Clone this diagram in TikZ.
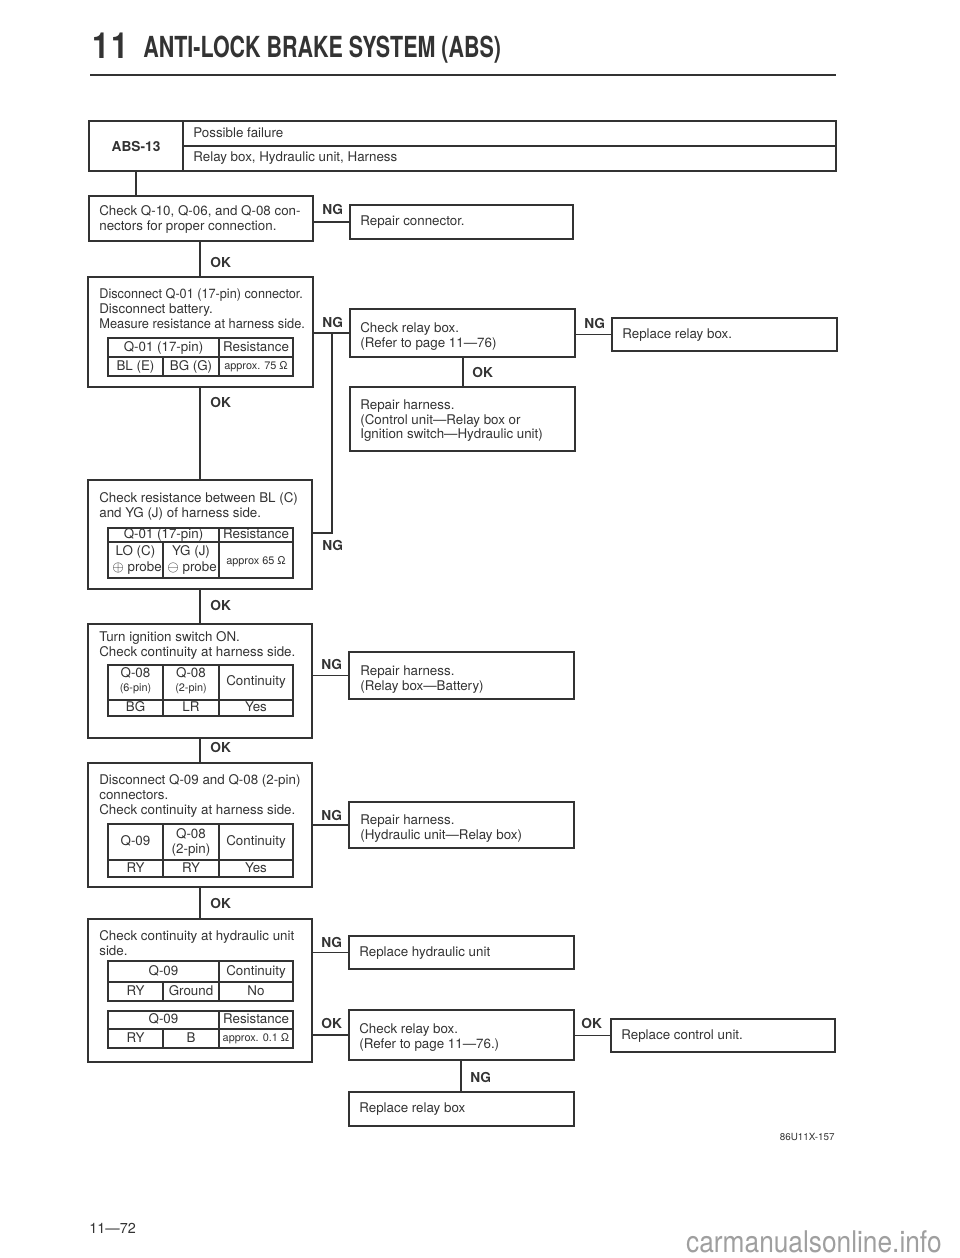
\documentclass[tikz,border=0pt]{standalone}
\usepackage{fontspec}
\setmainfont{TeX Gyre Heros}
\usetikzlibrary{fit}

\definecolor{ink}{HTML}{333333}
\newcommand\bodyfont{\fontsize{7.6}{8.5}\selectfont}
\newcommand\smallfont{\fontsize{6.2}{7}\selectfont}
\newcommand\tagfont{\fontsize{7.8}{9}\selectfont\bfseries}

\begin{document}
\begin{tikzpicture}[x=0.2mm,y=-0.2mm,
    box/.style={draw=ink, line width=0.7pt, inner sep=0pt},
    txt/.style={anchor=north west, inner sep=0pt, align=left, text=ink, font=\bodyfont},
    line/.style={anchor=west, inner sep=0pt, text=ink, font=\bodyfont, text height=5.6pt, text depth=1.6pt},
    cell/.style={inner sep=0pt, align=center, text=ink, font=\bodyfont, text height=5.6pt, text depth=1.6pt},
    tiny/.style={inner sep=0pt, align=center, text=ink, font=\smallfont, text height=4.6pt, text depth=1.3pt},
    tag/.style={anchor=west, inner sep=0pt, text=ink, font=\tagfont, text height=5.8pt, text depth=0pt},
    link/.style={draw=ink, line width=0.7pt},
    grid/.style={draw=ink, line width=0.6pt}]
\fill[white] (0,0) rectangle (960,1258);
\useasboundingbox (0,0) rectangle (960,1258);

% header
\node[anchor=base west, inner sep=0pt, text=ink, font=\fontsize{20.5}{22}\selectfont\bfseries] (secno) at (92,58) {\scalebox{0.85}[1]{1\hspace{1.5pt}1}};
\node[anchor=base west, inner sep=0pt, text=ink, font=\fontsize{16.5}{18}\selectfont\bfseries] (sectitle) at (143,57) {\scalebox{0.74}[1]{ANTI-LOCK BRAKE SYSTEM (ABS)}};
\draw[ink, line width=1.5pt] (90,75) -- (836,75);

% ABS-13 heading box
\node[box, fit={(89,121) (836,171)}] (abs) {};
\draw[grid] (183,121) -- (183,171) (183,146) -- (836,146);
\node[tag, anchor=center] (abslab) at (136,146) {ABS-13};
\node[line] (fail) at (193,134) {Possible failure};
\node[line] (cause) at (193,158) {Relay box, Hydraulic unit, Harness};

\coordinate (spine) at (200,0);
\coordinate (ngbus) at (332,533);

% step 1
\node[box, fit={(89,196) (313,241)}] (chk) {};
\node[txt] (chkt) at (99,205) {Check Q-10, Q-06, and Q-08 con-\\nectors for proper connection.};
\node[box, fit={(350,205) (573,239)}] (rcon) {};
\node[line] (rcont) at (360,222) {Repair connector.};
\draw[link] (abs.south -| abslab) -- (chk.north -| abslab);
\draw[link] (chk.east |- rcon.west) -- (rcon.west);
\node[tag] (ng1) at (322,209) {NG};

% step 2
\node[box, fit={(88,277) (313,387)}] (dis) {};
\node[txt] (dist) at (99,288) {\scalebox{0.95}[1]{Disconnect Q-01 (17-pin) connector.}\\Disconnect battery.\\\scalebox{0.96}[1]{Measure resistance at harness side.}};
\draw[grid] (108,338) rectangle (293,376) (108,357) -- (293,357) (163,357) -- (163,376) (219,338) -- (219,376);
\node[cell] (t1a) at (163.5,347.5) {Q-01 (17-pin)};
\node[cell] (t1b) at (256,347.5) {Resistance};
\node[cell] (t1c) at (135.5,366.5) {BL (E)};
\node[cell] (t1d) at (191,366.5) {BG (G)};
\node[tiny] (t1e) at (256,366.5) {approx. 75 Ω};
\draw[link] (chk.south -| spine) -- (dis.north -| spine);
\node[tag] (ok1) at (210,262) {OK};

\node[box, fit={(350,309) (575,357)}] (rly1) {};
\node[txt] (rly1t) at (360,322) {Check relay box.\\(Refer to page 11—76)};
\node[box, fit={(612,318) (837,351)}] (rrb1) {};
\node[line] (rrb1t) at (622,335) {Replace relay box.};
\node[box, fit={(350,387) (575,451)}] (rh1) {};
\node[txt] (rh1t) at (360,399) {Repair harness.\\(Control unit—Relay box or\\Ignition switch—Hydraulic unit)};
\draw[link] (dis.east |- rly1.west) -- (rly1.west);
\node[tag] (ng2) at (322,322) {NG};
\draw[link] (rrb1.west -| rly1.east) -- (rrb1.west);
\node[tag] (ng3) at (584,323) {NG};
\draw[link] (rly1.south -| 463,0) -- (rh1.north -| 463,0);
\node[tag] (ok2) at (472,372) {OK};

% step 3
\node[box, fit={(88,480) (312,589)}] (res) {};
\node[txt] (rest) at (99,492) {Check resistance between BL (C)\\and YG (J) of harness side.};
\draw[grid] (108,528) rectangle (293,578) (108,542) -- (293,542) (163,542) -- (163,578) (219,528) -- (219,578);
\node[cell] (t2a) at (163.5,535) {Q-01 (17-pin)};
\node[cell] (t2b) at (256,535) {Resistance};
\node[cell] (t2c) at (135.5,552) {LO (C)};
\node[cell] (t2d) at (137,568) {$\oplus$ probe};
\node[cell] (t2e) at (191,552) {YG (J)};
\node[cell] (t2f) at (192,568) {$\ominus$ probe};
\node[tiny] (t2g) at (256,562) {approx 65 Ω};
\draw[link] (dis.south -| spine) -- (res.north -| spine);
\node[tag] (ok3) at (210,402) {OK};
\draw[link] (res.east |- ngbus) -- (ngbus) -- (ngbus |- rly1.west);
\node[tag] (ng4) at (322,545) {NG};

% step 4
\node[box, fit={(88,624) (312,738)}] (ign) {};
\node[txt] (ignt) at (99,631) {Turn ignition switch ON.\\Check continuity at harness side.};
\draw[grid] (108,665) rectangle (293,716) (108,700) -- (293,700) (163,665) -- (163,716) (219,665) -- (219,716);
\node[cell] (t3a) at (135.5,674) {Q-08};
\node[tiny] (t3b) at (135.5,689) {(6-pin)};
\node[cell] (t3c) at (191,674) {Q-08};
\node[tiny] (t3d) at (191,689) {(2-pin)};
\node[cell] (t3e) at (256,682) {Continuity};
\node[cell] (t3f) at (135.5,708) {BG};
\node[cell] (t3g) at (191,708) {LR};
\node[cell] (t3h) at (256,708) {Yes};
\draw[link] (res.south -| spine) -- (ign.north -| spine);
\node[tag] (ok4) at (210,605) {OK};
\node[box, fit={(349,652) (574,699)}] (rh2) {};
\node[txt] (rh2t) at (360,665) {Repair harness.\\(Relay box—Battery)};
\draw[link] (ign.east |- rh2.west) -- (rh2.west);
\node[tag] (ng5) at (321,664) {NG};

% step 5
\node[box, fit={(88,763) (312,887)}] (dq9) {};
\node[txt] (dq9t) at (99,774) {Disconnect Q-09 and Q-08 (2-pin)\\connectors.\\Check continuity at harness side.};
\draw[grid] (108,824) rectangle (293,877) (108,860) -- (293,860) (163,824) -- (163,877) (219,824) -- (219,877);
\node[cell] (t4a) at (135.5,842) {Q-09};
\node[cell] (t4b) at (191,835) {Q-08};
\node[cell] (t4c) at (191,850) {(2-pin)};
\node[cell] (t4d) at (256,842) {Continuity};
\node[cell] (t4e) at (135.5,868.5) {RY};
\node[cell] (t4f) at (191,868.5) {RY};
\node[cell] (t4g) at (256,868.5) {Yes};
\draw[link] (ign.south -| spine) -- (dq9.north -| spine);
\node[tag] (ok5) at (210,747) {OK};
\node[box, fit={(349,802) (574,848)}] (rh3) {};
\node[txt] (rh3t) at (360,814) {Repair harness.\\(Hydraulic unit—Relay box)};
\draw[link] (dq9.east |- rh3.west) -- (rh3.west);
\node[tag] (ng6) at (321,815) {NG};

% step 6
\node[box, fit={(88,919) (312,1062)}] (hyd) {};
\node[txt] (hydt) at (99,930) {Check continuity at hydraulic unit\\side.};
\draw[grid] (108,961) rectangle (293,1001) (108,982) -- (293,982) (163,982) -- (163,1001) (219,961) -- (219,1001);
\node[cell] (t5a) at (163.5,971.5) {Q-09};
\node[cell] (t5b) at (256,971.5) {Continuity};
\node[cell] (t5c) at (135.5,991.5) {RY};
\node[cell] (t5d) at (191,991.5) {Ground};
\node[cell] (t5e) at (256,991.5) {No};
\draw[grid] (108,1011) rectangle (293,1048) (108,1029) -- (293,1029) (163,1029) -- (163,1048) (219,1011) -- (219,1048);
\node[cell] (t6a) at (163.5,1020) {Q-09};
\node[cell] (t6b) at (256,1020) {Resistance};
\node[cell] (t6c) at (135.5,1038.5) {RY};
\node[cell] (t6d) at (191,1038.5) {B};
\node[tiny] (t6e) at (256,1038.5) {approx. 0.1 Ω};
\draw[link] (dq9.south -| spine) -- (hyd.north -| spine);
\node[tag] (ok6) at (210,903) {OK};

\node[box, fit={(349,936) (574,969)}] (rhu) {};
\node[line] (rhut) at (359,953) {Replace hydraulic unit};
\draw[link] (hyd.east |- rhu.west) -- (rhu.west);
\node[tag] (ng7) at (321,942) {NG};
\node[box, fit={(349,1010) (574,1060)}] (rly2) {};
\node[txt] (rly2t) at (359,1023) {Check relay box.\\(Refer to page 11—76.)};
\draw[link] (hyd.east |- rly2.west) -- (rly2.west);
\node[tag] (ok7) at (321,1023) {OK};
\node[box, fit={(611,1019) (835,1052)}] (rcu) {};
\node[line] (rcut) at (621,1036) {Replace control unit.};
\draw[link] (rly2.east |- rcu.west) -- (rcu.west);
\node[tag] (ok8) at (581,1023) {OK};
\node[box, fit={(349,1092) (574,1126)}] (rrb2) {};
\node[line] (rrb2t) at (359,1109) {Replace relay box};
\draw[link] (rly2.south -| 461,0) -- (rrb2.north -| 461,0);
\node[tag] (ng8) at (470,1077) {NG};

% footer
\node[anchor=east, inner sep=0pt, text=ink, font=\fontsize{5.6}{6}\selectfont] (figno) at (835,1137) {86U11X-157};
\node[anchor=west, inner sep=0pt, text=ink, font=\fontsize{8.2}{9}\selectfont] (pageno) at (89,1228) {11—72};
\node[anchor=base east, inner sep=0pt, text=gray!75, font=\fontsize{17}{18}\selectfont] (mark) at (942,1252) {\scalebox{0.88}[1]{carmanualsonline.info}};
\end{tikzpicture}
\end{document}
